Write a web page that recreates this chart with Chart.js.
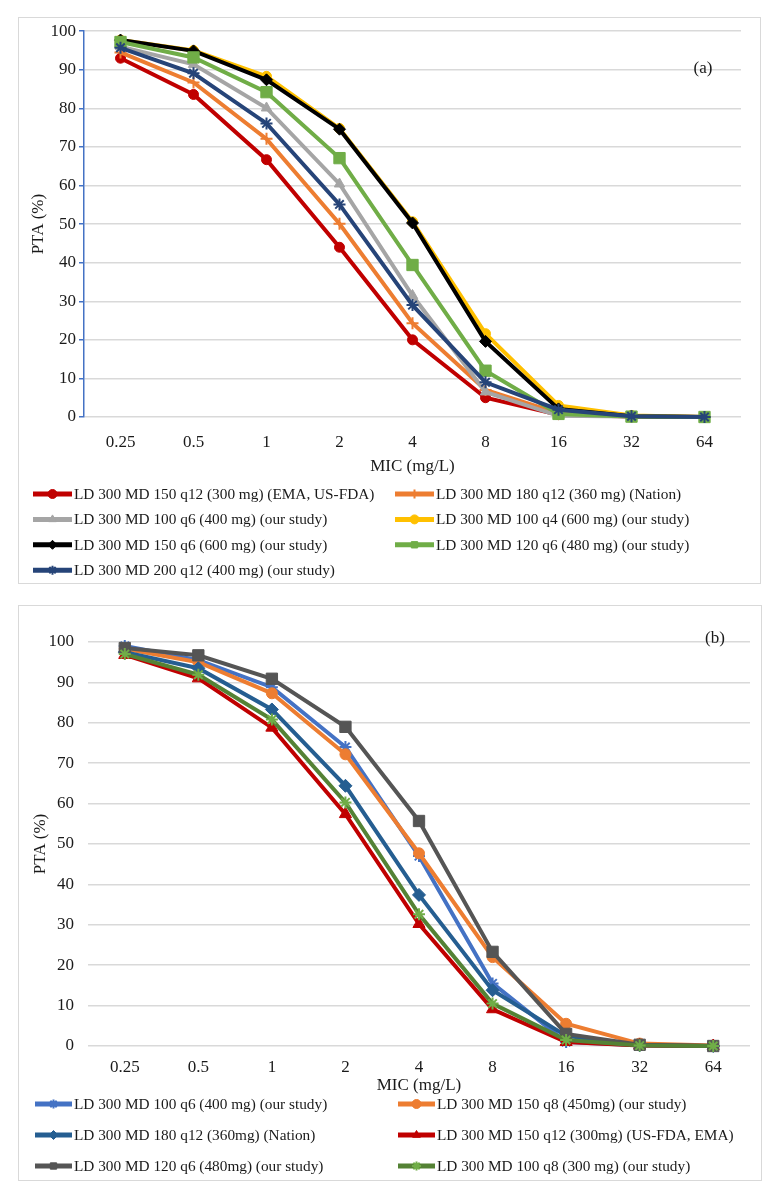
<!DOCTYPE html>
<html>
<head>
<meta charset="utf-8">
<script src="https://cdn.jsdelivr.net/npm/chart.js@4.4.0/dist/chart.umd.min.js"></script>
<style>
  body { margin: 0; background: #fff; width: 768px; height: 1197px; position: relative; }
  .box { position: absolute; border: 1px solid #d9d9d9; background: #fff; }
  #boxA { left: 18px; top: 17px; }
  #boxB { left: 18px; top: 605px; }
  canvas { display: block; }
</style>
</head>
<body>
<div class="box" id="boxA"><canvas id="chartA" width="741" height="565"></canvas></div>
<div class="box" id="boxB"><canvas id="chartB" width="742" height="574"></canvas></div>
<script>
// ---- shared axis data
const micLabels = ['0.25', '0.5', '1', '2', '4', '8', '16', '32', '64'];
const xTitle = 'MIC (mg/L)';
const yTitle = 'PTA (%)';

// ---- panel (a)
const emaA    = [93.0, 83.6, 66.7, 44.0, 20.0, 5.0, 0.6, 0.1, 0];
const nationA = [94.5, 86.7, 72.1, 50.1, 24.3, 7.0, 1.0, 0.1, 0];
const q6_100A = [96.0, 91.4, 80.1, 60.4, 31.5, 6.5, 0.3, 0.1, 0];
const q4_100A = [97.7, 95.0, 88.3, 74.8, 50.6, 21.6, 3.0, 0.4, 0];
const q6_150A = [97.7, 94.9, 87.4, 74.6, 50.3, 19.6, 2.1, 0.2, 0];
const q6_120A = [97.2, 93.2, 84.2, 67.1, 39.4, 12.0, 0.8, 0.1, 0];
const q12_200A = [95.7, 89.1, 76.1, 55.1, 29.0, 9.0, 1.9, 0.2, 0];

// ---- panel (b)
const q6_100B  = [99.0, 95.5, 88.8, 74.0, 47.0, 15.5, 1.0, 0.2, 0];
const q8_150B  = [98.3, 95.0, 87.3, 72.2, 47.7, 22.0, 5.5, 0.6, 0.1];
const q12_180B = [97.5, 93.5, 83.3, 64.4, 37.4, 13.8, 2.5, 0.2, 0];
const q12_150B = [96.8, 91.0, 78.8, 57.4, 30.2, 9.1, 1.0, 0.1, 0];
const q6_120B  = [98.5, 96.7, 90.9, 79.0, 55.7, 23.3, 3.0, 0.3, 0];
const q8_100B  = [97.0, 91.9, 80.8, 60.3, 32.6, 10.5, 1.5, 0.1, 0];

const FONT = '"Liberation Serif", "Times New Roman", serif';
Chart.defaults.font.family = FONT;
Chart.defaults.font.size = 17;
Chart.defaults.color = '#1a1a1a';

function line(label, data, color, style, radius, ptColor) {
  const pc = ptColor || color;
  const stroked = style === 'cross' || style === 'star' || style === 'crossRot';
  return {
    label, data,
    borderColor: color, backgroundColor: pc,
    borderWidth: 4,
    pointStyle: style, pointRadius: radius,
    pointBackgroundColor: pc, pointBorderColor: pc,
    pointBorderWidth: stroked ? 2 : 1,
    tension: 0, clip: 10
  };
}

// Excel puts later series on top; chart.js puts lower order on top
function stackOrder(sets) {
  sets.forEach((d, i) => { d.order = sets.length - i; });
  return sets;
}

// legend in two columns, drawn with chart.js point helper
const gridLegend = {
  id: 'gridLegend',
  afterDraw(chart, args, opts) {
    const ctx = chart.ctx;
    ctx.save();
    ctx.font = '15.3px ' + FONT;
    ctx.textBaseline = 'middle';
    chart.data.datasets.forEach((ds, i) => {
      const x = opts.cols[i % 2];
      const y = opts.top + Math.floor(i / 2) * opts.rowGap;
      ctx.strokeStyle = ds.borderColor;
      ctx.lineWidth = 5;
      ctx.beginPath();
      ctx.moveTo(x, y);
      ctx.lineTo(x + opts.lineLen, y);
      ctx.stroke();
      ctx.fillStyle = ds.pointBackgroundColor;
      ctx.strokeStyle = ds.pointBorderColor;
      ctx.lineWidth = ds.pointBorderWidth;
      Chart.helpers.drawPoint(ctx, {
        pointStyle: ds.pointStyle, radius: 4.5, borderWidth: ds.pointBorderWidth, rotation: 0
      }, x + opts.lineLen / 2, y);
      ctx.fillStyle = '#1a1a1a';
      ctx.fillText(ds.label, x + opts.lineLen + 2, y + 1);
    });
    ctx.restore();
  }
};

const panelTag = {
  id: 'panelTag',
  afterDraw(chart, args, opts) {
    const ctx = chart.ctx;
    ctx.save();
    ctx.font = '17px ' + FONT;
    ctx.fillStyle = '#1a1a1a';
    ctx.textAlign = 'center';
    ctx.textBaseline = 'middle';
    ctx.fillText(opts.text, opts.x, opts.y);
    ctx.restore();
  }
};

function makeOptions(cfg) {
  return {
    responsive: false,
    animation: false,
    layout: { padding: cfg.padding },
    plugins: {
      legend: { display: false },
      tooltip: { enabled: false },
      gridLegend: cfg.legend,
      panelTag: cfg.tag
    },
    scales: {
      x: {
        type: 'category',
        offset: true,
        grid: { display: false, drawTicks: false },
        border: { display: false },
        ticks: { padding: cfg.xTickPad },
        title: { display: true, text: xTitle, padding: { top: 0, bottom: 0 } },
        afterFit(s) { s.height = cfg.xHeight; }
      },
      y: {
        min: 0, max: 100,
        ticks: { stepSize: 10, padding: cfg.yTickPad },
        grid: {
          color: '#d9d9d9', lineWidth: 1.5,
          drawTicks: cfg.yTicks, tickLength: 5, tickColor: '#4472c4'
        },
        border: { display: cfg.yBorder, color: '#4472c4', width: 1.5 },
        title: { display: true, text: yTitle, padding: { top: cfg.yTitlePad, bottom: 0 } },
        afterFit(s) { s.width = cfg.yWidth; }
      }
    }
  };
}

new Chart(document.getElementById('chartA'), {
  type: 'line',
  data: {
    labels: micLabels,
    datasets: stackOrder([
      line('LD 300 MD 150 q12 (300 mg) (EMA, US-FDA)', emaA, '#c00000', 'circle', 5),
      line('LD 300 MD 180 q12 (360 mg) (Nation)', nationA, '#ed7d31', 'cross', 6),
      line('LD 300 MD 100 q6 (400 mg) (our study)', q6_100A, '#a5a5a5', 'triangle', 6),
      line('LD 300 MD 100 q4 (600 mg) (our study)', q4_100A, '#ffc000', 'circle', 5),
      line('LD 300 MD 150 q6 (600 mg) (our study)', q6_150A, '#000000', 'rectRot', 6),
      line('LD 300 MD 120 q6 (480 mg) (our study)', q6_120A, '#70ad47', 'rect', 8),
      line('LD 300 MD 200 q12 (400 mg) (our study)', q12_200A, '#264478', 'star', 6)
    ])
  },
  options: makeOptions({
    padding: { top: 11, right: 19, bottom: 106, left: 0 },
    xHeight: 60, xTickPad: 15,
    yWidth: 65, yTickPad: 3, yTitlePad: 9, yTicks: true, yBorder: true,
    legend: { cols: [14, 376], top: 476, rowGap: 25.4, lineLen: 39 },
    tag: { text: '(a)', x: 684, y: 51 }
  }),
  plugins: [gridLegend, panelTag]
});

new Chart(document.getElementById('chartB'), {
  type: 'line',
  data: {
    labels: micLabels,
    datasets: stackOrder([
      line('LD 300 MD 100 q6 (400 mg) (our study)', q6_100B, '#4472c4', 'star', 6),
      line('LD 300 MD 150 q8 (450mg) (our study)', q8_150B, '#ed7d31', 'circle', 5.5),
      line('LD 300 MD 180 q12 (360mg) (Nation)', q12_180B, '#255e91', 'rectRot', 6.5),
      line('LD 300 MD 150 q12 (300mg) (US-FDA, EMA)', q12_150B, '#c00000', 'triangle', 7),
      line('LD 300 MD 120 q6 (480mg) (our study)', q6_120B, '#555555', 'rect', 8),
      line('LD 300 MD 100 q8 (300 mg) (our study)', q8_100B, '#548235', 'star', 6, '#70ad47')
    ])
  },
  options: makeOptions({
    padding: { top: 36, right: 11, bottom: 84, left: 0 },
    xHeight: 50, xTickPad: 11,
    yWidth: 69, yTickPad: 14, yTitlePad: 11, yTicks: false, yBorder: false,
    legend: { cols: [16, 379], top: 498, rowGap: 31, lineLen: 37 },
    tag: { text: '(b)', x: 696, y: 33 }
  }),
  plugins: [gridLegend, panelTag]
});
</script>
</body>
</html>
